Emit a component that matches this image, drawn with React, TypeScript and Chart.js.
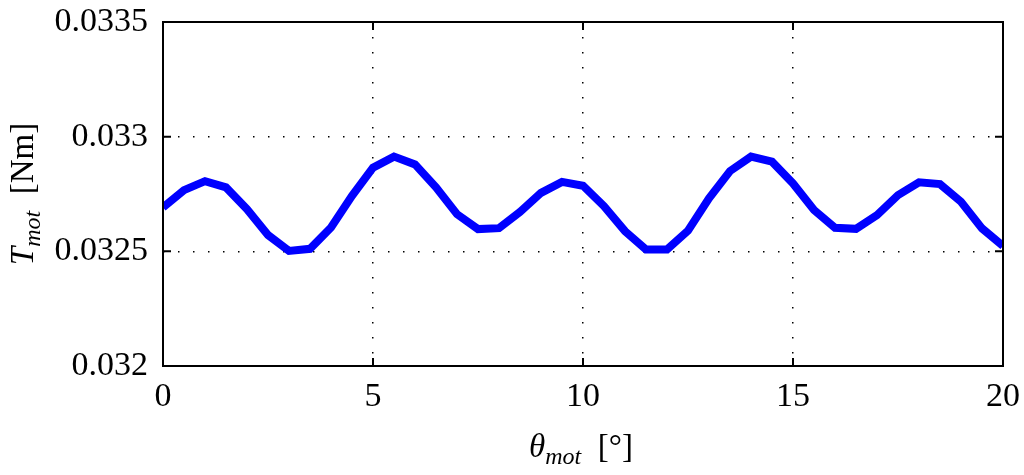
import React, { useEffect, useRef } from "react";
import { Chart, registerables } from "chart.js";

Chart.register(...registerables);

const thetaDeg: number[] = [
  0, 0.5, 1, 1.5, 2, 2.5, 3, 3.5, 4, 4.5,
  5, 5.5, 6, 6.5, 7, 7.5, 8, 8.5, 9, 9.5,
  10, 10.5, 11, 11.5, 12, 12.5, 13, 13.5, 14, 14.5,
  15, 15.5, 16, 16.5, 17, 17.5, 18, 18.5, 19, 19.5, 20,
];

const torqueNm: number[] = [
  0.032692, 0.032767, 0.032806, 0.032779, 0.032684, 0.032571, 0.032502, 0.032511, 0.032604, 0.032742,
  0.032865, 0.032913, 0.032879, 0.032779, 0.032662, 0.032597, 0.032601, 0.032672, 0.032755, 0.032803,
  0.032786, 0.032697, 0.032588, 0.032508, 0.032508, 0.032590, 0.032731, 0.032850, 0.032913, 0.032891,
  0.032796, 0.032680, 0.032603, 0.032598, 0.032658, 0.032745, 0.032801, 0.032793, 0.032716, 0.032600,
  0.032523,
];

const xTicks: number[] = [0, 5, 10, 15, 20];
const yTicks: number[] = [0.032, 0.0325, 0.033, 0.0335];
const yTickLabels: string[] = ["0.032", "0.0325", "0.033", "0.0335"];

const SERIF = "'Liberation Serif', 'Times New Roman', serif";

const framePlugin = {
  id: "frame",
  afterDraw(chart: any) {
    const { ctx, chartArea } = chart;
    const { left, right, top, bottom } = chartArea;
    const xs = chart.scales.x;
    const ys = chart.scales.y;
    ctx.save();
    ctx.strokeStyle = "#000";
    ctx.lineWidth = 2;
    ctx.setLineDash([]);
    ctx.strokeRect(left, top, right - left, bottom - top);
    const tl = 8;
    ctx.beginPath();
    xTicks.forEach((v) => {
      const px = xs.getPixelForValue(v);
      ctx.moveTo(px, bottom);
      ctx.lineTo(px, bottom - tl);
      ctx.moveTo(px, top);
      ctx.lineTo(px, top + tl);
    });
    yTicks.forEach((v) => {
      const py = ys.getPixelForValue(v);
      ctx.moveTo(left, py);
      ctx.lineTo(left + tl, py);
      ctx.moveTo(right, py);
      ctx.lineTo(right - tl, py);
    });
    ctx.stroke();

    // axis titles
    ctx.fillStyle = "#000";
    ctx.textBaseline = "alphabetic";
    const mainFont = `33px ${SERIF}`;
    const italFont = `italic 33px ${SERIF}`;
    const subFont = `italic 24px ${SERIF}`;

    const drawTitle = (sym: string, sub: string, rest: string, cx: number, baseY: number) => {
      ctx.font = italFont;
      const w1 = ctx.measureText(sym).width;
      ctx.font = subFont;
      const w2 = ctx.measureText(sub).width;
      ctx.font = mainFont;
      const w3 = ctx.measureText(rest).width;
      const total = w1 + w2 + w3;
      let x = cx - total / 2;
      ctx.font = italFont;
      ctx.fillText(sym, x, baseY);
      x += w1;
      ctx.font = subFont;
      ctx.fillText(sub, x, baseY + 7);
      x += w2;
      ctx.font = mainFont;
      ctx.fillText(rest, x, baseY);
    };

    drawTitle("\u03B8", "mot", "  [\u00B0]", (left + right) / 2 - 2, 457);

    ctx.save();
    ctx.translate(33, (top + bottom) / 2);
    ctx.rotate(-Math.PI / 2);
    drawTitle("T", "mot", "  [Nm]", 0, 0);
    ctx.restore();

    ctx.restore();
  },
};

export default function App() {
  const canvasRef = useRef<HTMLCanvasElement | null>(null);

  useEffect(() => {
    if (!canvasRef.current) return;
    const gridColor = (ctx: any) => {
      const v = ctx.tick ? ctx.tick.value : null;
      const s = ctx.scale;
      if (v === null || v === undefined) return "rgba(0,0,0,0)";
      if (Math.abs(v - s.min) < 1e-9 || Math.abs(v - s.max) < 1e-9) return "rgba(0,0,0,0)";
      return "#000";
    };
    const chart = new Chart(canvasRef.current, {
      type: "line",
      data: {
        datasets: [
          {
            data: thetaDeg.map((x, i) => ({ x, y: torqueNm[i] })),
            borderColor: "#0000FF",
            backgroundColor: "#0000FF",
            borderWidth: 8,
            pointRadius: 0,
            fill: false,
            tension: 0,
          },
        ],
      },
      options: {
        responsive: false,
        animation: false,
        layout: { padding: { top: 22, right: 21, left: 0, bottom: 0 } },
        plugins: { legend: { display: false }, tooltip: { enabled: false } },
        scales: {
          x: {
            type: "linear",
            min: 0,
            max: 20,
            afterBuildTicks: (scale: any) => {
              scale.ticks = xTicks.map((v) => ({ value: v }));
            },
            afterFit: (scale: any) => {
              scale.height = 109;
              scale.paddingLeft = 0;
              scale.paddingRight = 0;
              scale.paddingTop = 0;
              scale.paddingBottom = 0;
            },
            grid: {
              color: gridColor,
              lineWidth: 1.5,
              drawTicks: false,
              borderDash: [1.5, 13.5],
            } as any,
            border: { display: false, dash: [1.5, 13.5] },
            ticks: {
              padding: 11,
              color: "#000",
              font: { family: SERIF, size: 34 },
              maxRotation: 0,
              callback: (v: any) => String(v),
            },
          },
          y: {
            type: "linear",
            min: 0.032,
            max: 0.0335,
            afterBuildTicks: (scale: any) => {
              scale.ticks = yTicks.map((v) => ({ value: v }));
            },
            afterFit: (scale: any) => {
              scale.width = 163;
              scale.paddingLeft = 0;
              scale.paddingRight = 0;
              scale.paddingTop = 0;
              scale.paddingBottom = 0;
            },
            grid: {
              color: gridColor,
              lineWidth: 1.5,
              drawTicks: false,
              borderDash: [1.5, 13.5],
            } as any,
            border: { display: false, dash: [1.5, 13.5] },
            ticks: {
              padding: 15,
              color: "#000",
              font: { family: SERIF, size: 34 },
              callback: (v: any) => {
                const i = yTicks.findIndex((t) => Math.abs(t - v) < 1e-9);
                return i >= 0 ? yTickLabels[i] : "";
              },
            },
          },
        },
      },
      plugins: [framePlugin],
    });
    return () => chart.destroy();
  }, []);

  return (
    <div style={{ position: "absolute", left: 0, top: 0, width: 1024, height: 475, background: "#fff" }}>
      <canvas ref={canvasRef} width={1024} height={475} style={{ width: 1024, height: 475, display: "block" }} />
    </div>
  );
}
